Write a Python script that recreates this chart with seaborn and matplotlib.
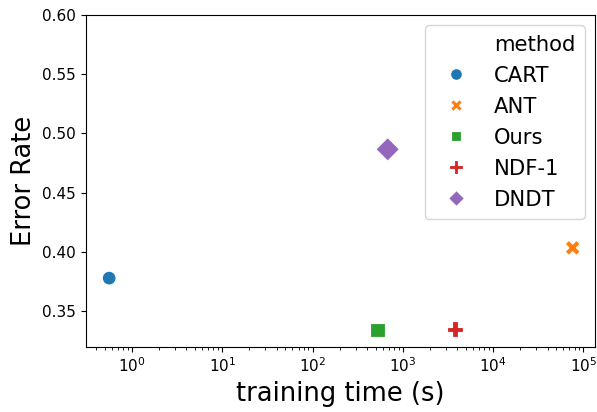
import matplotlib
matplotlib.use('Agg')
import matplotlib.pyplot as plt
import pandas as pd
import seaborn as sns
from matplotlib.lines import Line2D

# Valores
methods = ['CART', 'ANT', 'Ours', 'NDF-1', 'DNDT']
train_time = [0.56, 76000, 523, 3780, 680]
error_rate = [0.378, 0.4035, 0.334, 0.335, 0.4866]

df = pd.DataFrame({'method': methods, 'training time (s)': train_time, 'Error Rate': error_rate})

# tamano por marcador para que se vean parecidos al original
marker_sizes = {'CART': 100, 'ANT': 120, 'Ours': 210, 'NDF-1': 125, 'DNDT': 290}
legend_ms = {'CART': 8.5, 'ANT': 8.5, 'Ours': 10.5, 'NDF-1': 9.5, 'DNDT': 11.5}

fig = plt.figure(figsize=(5.97, 4.12), dpi=100)
ax = fig.add_axes([0.144, 0.158, 0.853, 0.806])

sns.scatterplot(data=df, x='training time (s)', y='Error Rate', hue='method', style='method',
                size='method', sizes=marker_sizes, ax=ax)
ax.set_xscale('log')
ax.set_xlim(0.31, 1.35e5)
ax.set_ylim(0.32, 0.60)
ax.set_xlabel('training time (s)', fontsize=18.5)
ax.set_ylabel('Error Rate', fontsize=18.5)
ax.tick_params(labelsize=11)

# Leyenda al estilo antiguo: el titulo como una fila mas
handles, labels = ax.get_legend_handles_labels()
ax.get_legend().remove()
for h, lab in zip(handles, labels):
    h.set_markersize(legend_ms[lab])
blank = Line2D([], [], linestyle='none', marker='')
ax.legend([blank] + handles, ['method'] + labels, loc='upper right', fontsize=15.2,
          handletextpad=0.8, borderpad=0.45, labelspacing=0.52)

fig.savefig('out.png', dpi=100)
